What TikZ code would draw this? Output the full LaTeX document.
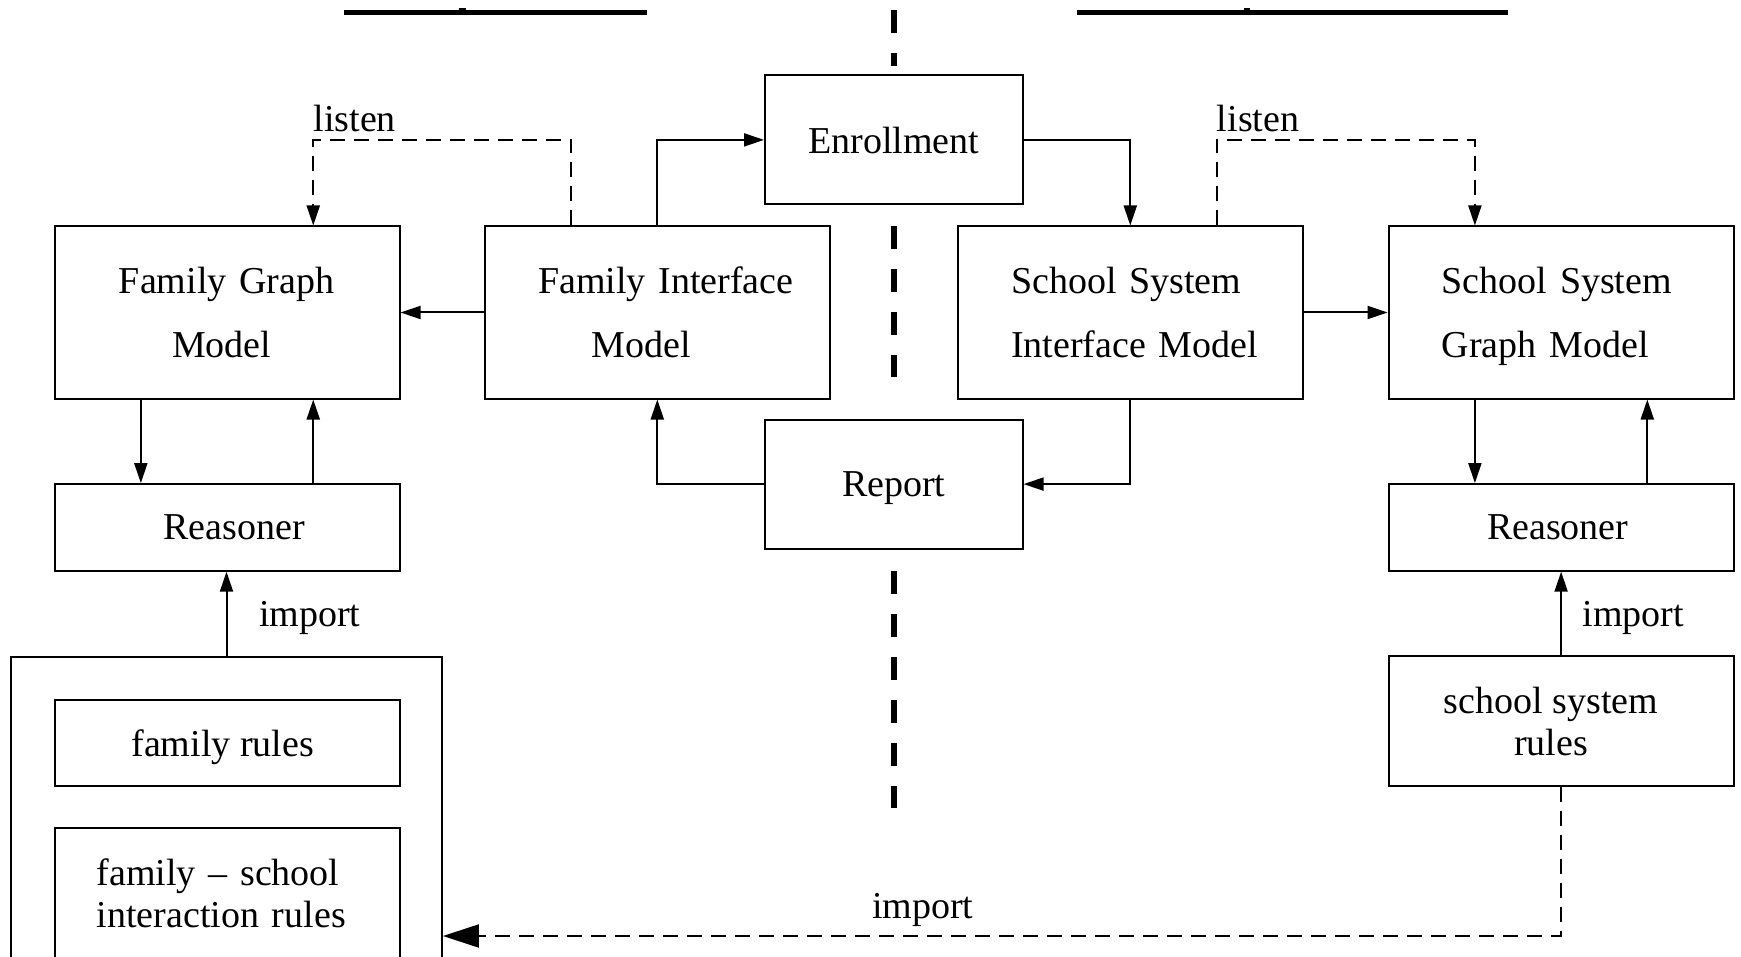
\documentclass[tikz,border=0pt]{standalone}
\usepackage{fontspec}
\setmainfont{Liberation Serif}
\usetikzlibrary{arrows.meta}
\begin{document}
\begin{tikzpicture}[x=0.5pt,y=-0.5pt,
  box/.style={draw, line width=1pt, fill=white, inner sep=0pt, minimum width=172.5pt,
    font=\fontsize{19}{21}\selectfont},
  bigbox/.style={box, minimum height=86pt, text width=172.5pt, align=left,
    font=\fontsize{19}{32.2}\selectfont},
  smallbox/.style={box, minimum width=128.8pt, minimum height=64.4pt, text depth=0pt},
  arr/.style={line width=1pt, -{Triangle[length=10pt,width=6.5pt]}},
  bigarr/.style={line width=1pt, -{Triangle[length=18pt,width=11.5pt]}},
  dashline/.style={dash pattern=on 7.5pt off 4.5pt},
  lbl/.style={font=\fontsize{19}{21}\selectfont, inner sep=0pt},
  separator/.style={line width=3pt, dash pattern=on 11.5pt off 10pt}
]
\useasboundingbox (0,0) rectangle (1741,957);

% partial rules along the top edge
\draw[line width=2.25pt] (344.2,12.3) -- (647.3,12.3);
\fill (459,8.5) rectangle (466,12.3);
\draw[line width=2.25pt] (1077,12.3) -- (1507.8,12.3);
\fill (1244,8.5) rectangle (1250,12.3);

% thick dashed divider between the two sides
\draw[separator] (893.8,10) -- (893.8,66);
\draw[separator] (893.8,226) -- (893.8,377);
\draw[separator] (893.8,571) -- (893.8,808);

% model boxes
\node[bigbox] (fgm) at (227.05,312.5) {\hspace*{32.2pt}Family Graph\\\hspace*{58.8pt}Model};
\node[bigbox] (fim) at (657.3,312.5) {\hspace*{26.6pt}Family Interface\\\hspace*{53.3pt}Model};
\node[bigbox] (ssim) at (1130.3,312.5) {\hspace*{26.6pt}School System\\\hspace*{26.6pt}Interface Model};
\node[bigbox] (ssgm) at (1561.1,312.5) {\hspace*{26.6pt}School System\\\hspace*{26.6pt}\smash{Graph Model}};

\node[smallbox] (enr) at (893.8,139.9) {Enrollment};
\node[smallbox] (rep) at (893.8,484.1) {Report};

% reasoners
\node[box, minimum height=43.3pt, text depth=0pt] (rl) at (227.05,527.4) {\hspace*{7pt}Reasoner};
\node[box, minimum height=43.3pt, text depth=0pt] (rr) at (1561.1,527.4) {\mbox{Reasoner\hspace{3.3pt}}};

% family rule set
\node[draw, line width=1pt, inner sep=0pt, minimum width=215.4pt, minimum height=170pt,
      anchor=north] (frs) at (226.5,656.2) {};
\node[box, minimum height=43.3pt, text depth=0pt] (fr) at (227.05,742.8) {\mbox{family rules\hspace{4.4pt}}};
\node[box, minimum height=65pt, text width=172.5pt, align=left] (fsir) at (227.05,893.3)
  {\hspace*{21.1pt}family – school\\\hspace*{21.1pt}interaction rules};

% school system rule set
\node[box, minimum height=65pt, align=center] (ssr) at (1561.1,721.1)
  {\mbox{school system\hspace{10pt}}\\\mbox{rules\hspace{10pt}}};

% helper points on the box edges
\coordinate (fgmR) at ([xshift=43.1pt]fgm.north);
\coordinate (fimL) at ([xshift=-43.1pt]fim.north);
\coordinate (ssimR) at ([xshift=43.1pt]ssim.north);
\coordinate (ssgmL) at ([xshift=-43.1pt]ssgm.north);
\coordinate (c1) at (fgmR |- enr.west);
\coordinate (c2) at (ssimR |- enr.east);
\coordinate (bend) at (1561.1,936);

% left side
\draw[arr] (fim.west) -- (fgm.east);
\draw[arr, dashline] (fimL) -- (fimL |- enr.west) -- (c1) -- (fgmR);
\node[lbl, anchor=base west] (lis1) at ([yshift=4.2pt]c1) {listen};
\draw[arr] (fim.north) |- (enr.west);
\draw[arr] (rep.west) -| (fim.south);
\draw[arr] ([xshift=-43.1pt]fgm.south) -- ([xshift=-43.1pt]rl.north);
\draw[arr] ([xshift=43.1pt]rl.north) -- ([xshift=43.1pt]fgm.south);
\draw[arr] (frs.north) -- (frs.north |- rl.south);
\node[lbl, anchor=base west] (imp1) at (258.7,626.2) {import};

% right side
\draw[arr] (enr.east) -| (ssim.north);
\draw[arr, dashline] (ssimR) -- (c2) -- (ssgmL |- enr.east) -- (ssgmL);
\node[lbl, anchor=base west] (lis2) at ([yshift=4.2pt]c2) {listen};
\draw[arr] (ssim.east) -- (ssgm.west);
\draw[arr] (ssim.south) |- (rep.east);
\draw[arr] ([xshift=-43.1pt]ssgm.south) -- ([xshift=-43.1pt]rr.north);
\draw[arr] ([xshift=43.1pt]rr.north) -- ([xshift=43.1pt]ssgm.south);
\draw[arr] (ssr.north) -- (rr.south);
\node[lbl, anchor=base west] (imp2) at (1582.2,626.2) {import};

% cross-side import
\draw[bigarr, dashline] (ssr.south) -- (bend) -- (bend -| frs.east);
\node[lbl, anchor=base] (imp3) at (922.7,918.5) {import};
\end{tikzpicture}
\end{document}
